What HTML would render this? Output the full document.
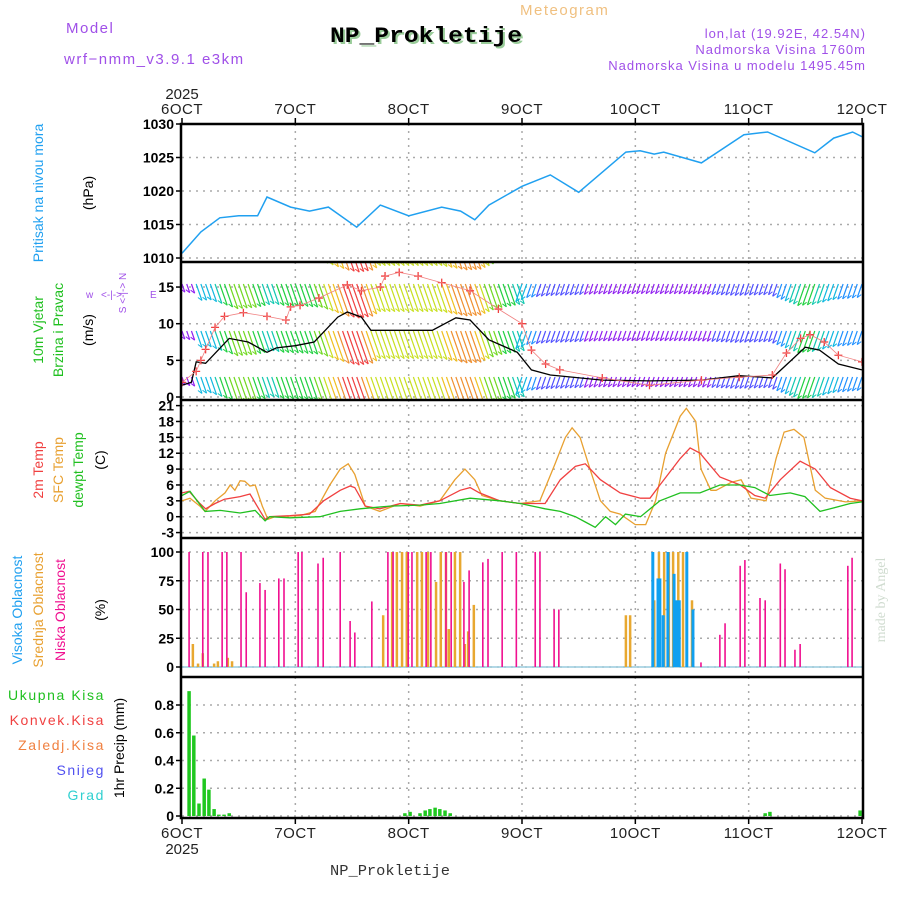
<!DOCTYPE html>
<html><head><meta charset="utf-8"><style>
html,body{margin:0;padding:0;background:#fff}
svg text{font-family:"Liberation Sans",sans-serif}
</style></head><body>
<svg id="chart" width="900" height="900" viewBox="0 0 900 900" xmlns="http://www.w3.org/2000/svg">
<rect x="0" y="0" width="900" height="900" fill="#fff"/>
<text x="66" y="33" font-size="15" fill="#a050e8" letter-spacing="1.5">Model</text>
<text x="64" y="64" font-size="15" fill="#a050e8" letter-spacing="1.5">wrf−nmm_v3.9.1 e3km</text>
<text x="520" y="15" font-size="15" fill="#f0c080" letter-spacing="1.5">Meteogram</text>
<text x="332" y="44" font-size="22" font-weight="bold" fill="#9c9" textLength="192" lengthAdjust="spacingAndGlyphs" style="font-family:'Liberation Mono',monospace">NP_Prokletije</text>
<text x="330" y="42" font-size="22" font-weight="bold" fill="#000" textLength="192" lengthAdjust="spacingAndGlyphs" style="font-family:'Liberation Mono',monospace">NP_Prokletije</text>
<text x="866" y="38" font-size="13" fill="#a050e8" text-anchor="end" letter-spacing="1">lon,lat (19.92E, 42.54N)</text>
<text x="866" y="54" font-size="13" fill="#a050e8" text-anchor="end" letter-spacing="1">Nadmorska Visina 1760m</text>
<text x="866" y="70" font-size="13" fill="#a050e8" text-anchor="end" letter-spacing="1">Nadmorska Visina u modelu 1495.45m</text>

<g id="grid"></g>
<g id="marks"></g>
<g id="axes"></g>

<text transform="translate(43,193) rotate(-90)" font-size="14" fill="#20a0f0" text-anchor="middle">Pritisak na nivou mora</text>
<text transform="translate(93,193) rotate(-90)" font-size="14" fill="#000" text-anchor="middle">(hPa)</text>
<text transform="translate(43,330) rotate(-90)" font-size="14" fill="#20c020" text-anchor="middle">10m Vjetar</text>
<text transform="translate(63,330) rotate(-90)" font-size="14" fill="#20c020" text-anchor="middle">Brzina i Pravac</text>
<text transform="translate(93,330) rotate(-90)" font-size="14" fill="#000" text-anchor="middle">(m/s)</text>
<text transform="translate(126,293) rotate(-90)" font-size="10" fill="#a050e8" text-anchor="middle">S &lt;-|-&gt; N</text>
<text x="86" y="298" font-size="10" fill="#a050e8">w</text>
<text x="150" y="298" font-size="10" fill="#a050e8">E</text>
<text x="101" y="298" font-size="10" fill="#a050e8">&lt;-|-&gt;</text>
<text transform="translate(43,470) rotate(-90)" font-size="14" fill="#f04040" text-anchor="middle">2m Temp</text>
<text transform="translate(63,470) rotate(-90)" font-size="14" fill="#e8a030" text-anchor="middle">SFC Temp</text>
<text transform="translate(83,470) rotate(-90)" font-size="14" fill="#20c020" text-anchor="middle">dewpt Temp</text>
<text transform="translate(105,460) rotate(-90)" font-size="14" fill="#000" text-anchor="middle">(C)</text>
<text transform="translate(22,610) rotate(-90)" font-size="14" fill="#20a0f0" text-anchor="middle">Visoka Oblacnost</text>
<text transform="translate(43,610) rotate(-90)" font-size="14" fill="#e8a030" text-anchor="middle">Srednja Oblacnost</text>
<text transform="translate(65,610) rotate(-90)" font-size="14" fill="#f01090" text-anchor="middle">Niska Oblacnost</text>
<text transform="translate(105,610) rotate(-90)" font-size="14" fill="#000" text-anchor="middle">(%)</text>
<text x="105" y="700" font-size="14" fill="#20c020" text-anchor="end" letter-spacing="1.6">Ukupna Kisa</text>
<text x="105" y="725" font-size="14" fill="#f04040" text-anchor="end" letter-spacing="1.6">Konvek.Kisa</text>
<text x="105" y="750" font-size="14" fill="#f08040" text-anchor="end" letter-spacing="1.6">Zaledj.Kisa</text>
<text x="105" y="775" font-size="14" fill="#5050f0" text-anchor="end" letter-spacing="1.6">Snijeg</text>
<text x="105" y="800" font-size="14" fill="#30d0d0" text-anchor="end" letter-spacing="1.6">Grad</text>
<text transform="translate(124,748) rotate(-90)" font-size="14" fill="#000" text-anchor="middle">1hr Precip (mm)</text>
<text transform="translate(885,600) rotate(-90)" font-size="14" fill="#d0dcd0" text-anchor="middle" style="font-family:'Liberation Serif',serif">made by Angel</text>
<text x="330" y="875" font-size="15" fill="#333" textLength="120" lengthAdjust="spacingAndGlyphs" style="font-family:'Liberation Mono',monospace">NP_Prokletije</text>
</svg>
<script>
const dayLabels = ["6OCT","7OCT","8OCT","9OCT","10OCT","11OCT","12OCT"];
const pressHours = [0,4,8,12,16,18,23,27,31,37,42,48,55,59,62,65,72,78,84,94,97,100,102,110,119,124,134,138,142,144];
const pressVals = [1010.7,1013.9,1016,1016.3,1016.3,1019.1,1017.6,1017,1017.6,1014.6,1017.9,1016.3,1017.6,1017,1015.7,1017.9,1020.7,1022.4,1019.8,1025.8,1026,1025.5,1025.8,1024.2,1028.4,1028.8,1025.7,1027.9,1028.8,1028.1];
const windHours = [0,2,3,5,10,14,18,20,24,28,33,35,38,40,47,53,58,61,65,71,74,78,89,99,110,118,125,129,132,135,139,144];
const windSpeed = [1.6,2,4.8,4.6,8,7.5,6.1,6.7,7,7.5,10.9,11.6,10.9,9.1,9.1,9.1,10.8,10.5,7.8,6.1,3.7,3,2.3,2.2,2.3,2.9,2.6,5,6.8,6.4,4.5,3.7];
const gustHours = [0,3,4,5,7,9,13,18,22,23,25,29,35,38,42,43,46,50,55,61,67,72,74,77,80,89,99,110,118,125,128,131,133,136,139,144];
const gustVals = [2,3.5,5,6.5,9.5,11,11.5,11,10.5,12.3,12.5,13.5,15.3,14.5,15,16.5,17,16.5,15.6,14.5,12,10,6.4,4.5,3.7,2.6,1.6,2.3,2.7,3,6,8,8.5,7.5,5.7,4.8];
const t2Hours = [0,1.5,3.8,5,7,9,12.3,14.4,15.9,17.6,18.6,22.9,27,30,33.5,35.6,36.6,38.8,41.9,46.2,50.4,54.6,58.9,61,63,67.3,71.6,76.9,80.1,83.3,85.4,88.6,92.8,97.1,99.1,101.2,105.5,107.6,109.7,113.9,118.2,121.3,123.5,126.7,130.9,134.1,137.3,141.5,144];
const t2Vals = [4.5,4.8,2.5,1.5,2.5,3.3,3.8,4.3,2,-0.5,0,0.2,0.5,3,5,5.8,5.5,2,1.5,2.5,2.2,3,5,5.5,4.5,3,2.5,2.5,7,9.5,10,7,4.5,3.5,3.5,6,11,13,12,7.5,6,4,3.5,7,10.5,9,5.5,3.5,3];
const sfcHours = [0,1.7,3.8,4.9,7,9.1,10.2,11.2,12.3,13.3,14.4,15.5,17,18.2,19.7,25,28.2,31.3,33.5,35.2,36.6,38.8,41.9,46.2,50.4,54.6,57.8,59.9,62,63.5,67.3,71.6,75.8,79,81.2,82.6,84.3,86.4,88.6,90.7,92.8,96,98.2,100.3,102.4,105.5,106.8,108.8,109.9,112,113.1,116.3,118.4,120.5,123.7,125.8,127.5,129.6,131.7,134.1,136.2,140.5,144];
const sfcVals = [3,3.5,2,1,3,4.5,6,5,6.8,6.7,5.8,6,2,-0.5,0,0.2,1,6,9,10,8,2,1,2.5,2,3,7,9,7,4,3,2.5,3,10,15,16.8,15,9,3,1,0.5,-1.5,-1.5,3,12,19,20.5,18,9,5,5,6.5,7,3.5,3,11,16,16.5,15,5,3.5,2.8,3];
const dewHours = [0,1.7,4.9,8.1,12.3,15.5,17.6,18.6,22.9,29.2,33.5,37.7,44,50.4,54.6,61,67.3,71.6,76.9,80.1,83.3,85.4,87.5,89.7,91.8,93.9,97.1,101.2,105.5,109.7,113.9,118.2,121.3,124.5,128.8,131.9,135.1,137.3,141.5,144];
const dewVals = [4,4.8,1,1.2,0.7,1.2,-0.8,0,-0.2,0,1,1.5,2,2.2,2.5,3.5,3,2.5,1.5,1,0,-1,-2,0,-1.5,0.5,0,3,4.5,4.5,6,6,5.5,4,4.5,3.8,1,1.5,2.5,2.8];
const lowCloudHours = [1.5,4.4,5.5,8.5,9.5,12.5,13.6,16.5,17.6,20.5,21.6,24.6,25.4,28.8,29.9,33.5,35.6,36.6,40.2,43.6,44.7,47.9,48.7,51.7,52.7,55.9,57,59.7,60.8,63.7,64.8,67.8,70.8,74.8,75.8,78.8,79.8,109.9,113.9,115,118.2,119.2,122.4,123.5,126.7,127.7,129.8,130.9,141,141.9];
const lowCloudVals = [100,100,100,100,100,100,65,73,67,77,77,100,100,90,95,100,40,30,57,100,100,100,100,100,100,100,100,74,84,91,94,100,100,100,100,50,50,4,28,38,88,93,60,58,90,85,15,20,88,95];
const midCloudHours = [2.3,3.4,4.4,6.8,7.6,9.7,10.6,42.6,44.5,45.5,46.6,47.6,49.8,50.8,52.1,53.8,54.8,55.9,56.5,57.8,58.9,59.9,60.6,61.8,94,94.9,100,101,102.1,103.1,104,105.1,106.1,108];
const midCloudVals = [20,3,12,3,5,8,5,45,100,100,100,100,100,100,100,74,100,100,33,100,100,20,31,54,45,45,58,100,100,100,100,100,100,58];
const highCloudHours = [99.7,100.8,101.2,101.9,102.9,104.2,104.8,105.3,106.9,108.2];
const highCloudVals = [100,77,77,45,100,81,58,58,100,50];
const precipHours = [1.5,2.5,3.6,4.7,5.7,6.8,7.8,8.9,10,47.2,48.3,50.4,51.5,52.5,53.6,54.6,55.7,56.8,123.5,124.5,143.6];
const precipVals = [0.9,0.58,0.09,0.27,0.19,0.05,0.01,0.01,0.02,0.02,0.03,0.02,0.04,0.05,0.06,0.05,0.04,0.02,0.02,0.03,0.04];
const pressTicks = [1010,1015,1020,1025,1030];
const windTicks = [0,5,10,15];
const tempTicks = [-3,0,3,6,9,12,15,18,21];
const cloudTicks = [0,25,50,75,100];
const precipTicks = [0,0.2,0.4,0.6,0.8];

const X0=182, X1=862, HMAX=144;
const xS = h => X0 + h*(X1-X0)/HMAX;
const yP = p => 258 - (p-1010)*6.7;
const yW = v => 397 - v*7.33;
const yT = t => 516.7 - t*5.29;
const yC = c => 667 - c*1.15;
const yR = r => 816 - r*138.75;

const NS="http://www.w3.org/2000/svg";
const grid=document.getElementById('grid'), marks=document.getElementById('marks'), axes=document.getElementById('axes');
function mk(tag, attrs, parent, text){
  const e=document.createElementNS(NS,tag);
  for(const k in attrs) e.setAttribute(k,attrs[k]);
  if(text!==undefined) e.textContent=text;
  parent.appendChild(e); return e;
}
const panels=[{top:124,bot:262,ticks:pressTicks,f:yP,fmt:v=>v,nm:'pressure'},
  {top:262,bot:400,ticks:windTicks,f:yW,fmt:v=>v,nm:'wind'},
  {top:400,bot:538,ticks:tempTicks,f:yT,fmt:v=>v,nm:'temp'},
  {top:538,bot:677,ticks:cloudTicks,f:yC,fmt:v=>v,nm:'cloud'},
  {top:677,bot:818,ticks:precipTicks,f:yR,fmt:v=>v===0?'0':v.toFixed(1),nm:'precip'}];

const defs=mk('defs',{},document.getElementById('chart'));
panels.forEach((p,i)=>{const c=mk('clipPath',{id:'clip'+i},defs); mk('rect',{x:X0,y:p.top,width:X1-X0,height:p.bot-p.top},c);});

panels.forEach((p,i)=>{
  for(let d=1; d<dayLabels.length-1; d++){
    const gl=mk('line',{x1:xS(d*24),x2:xS(d*24),y1:p.top,y2:p.bot,stroke:'#aaa','stroke-width':1.5,'stroke-dasharray':'2,5'},grid);
    
    
  }
  p.ticks.forEach(t=>{
    const y=p.f(t);
    const hl=mk('line',{x1:X0,x2:X1,y1:y,y2:y,stroke:'#aaa','stroke-width':1.5,'stroke-dasharray':'2,5'},grid);
    
    
    mk('line',{x1:X0-6,x2:X0,y1:y,y2:y,stroke:'#000','stroke-width':1.5},axes);
    const tl=mk('text',{x:X0-8,y:y+5,'font-size':14,'font-weight':'bold','text-anchor':'end',fill:'#000'},axes,p.fmt(t));
    
    
  });
});

function poly(hs, vs, fy, color, w, name, clip){
  const pts=hs.map((h,i)=>xS(h).toFixed(1)+','+fy(vs[i]).toFixed(1)).join(' ');
  const e=mk('polyline',{points:pts,fill:'none',stroke:color,'stroke-width':w,'clip-path':'url(#clip'+clip+')'},marks);
  
  
}
function interp(hs, vs, h){
  if(h<=hs[0]) return vs[0];
  for(let i=1;i<hs.length;i++) if(h<=hs[i]){const t=(h-hs[i-1])/(hs[i]-hs[i-1]);return vs[i-1]+t*(vs[i]-vs[i-1]);}
  return vs[vs.length-1];
}
function barColor(s){
  if(s<2.5) return '#9020f0'; if(s<3.5) return '#5050ff'; if(s<4.5) return '#2090ff';
  if(s<5.5) return '#10b8e0'; if(s<6.5) return '#10c8b0'; if(s<7.5) return '#20d040';
  if(s<8.5) return '#70d820'; if(s<9.5) return '#c8e020'; if(s<10.3) return '#f0c020';
  if(s<11) return '#f09030'; return '#f04040';
}

poly(pressHours, pressVals, yP, '#20a0f0', 1.5, 'pressure-line', 0);

const rows=[377,331,284,238];
for(let h=0; h<=HMAX; h++){
  const s=interp(windHours, windSpeed, h);
  const len=4+2.6*s;
  const dx = h<72 ? 0.35*len : -0.35*len;
  rows.forEach(ry=>{
    const x=xS(h);
    const b=mk('line',{x1:x,y1:ry,x2:x+dx,y2:ry+len,stroke:barColor(s),'stroke-width':1.2,'clip-path':'url(#clip1)'},marks);
    
    
    const f=mk('line',{x1:x+dx,y1:ry+len,x2:x+dx+(dx>0?-4:4),y2:ry+len-3,stroke:barColor(s),'stroke-width':1,'clip-path':'url(#clip1)'},marks);
    
    
  });
}
poly(windHours, windSpeed, yW, '#000', 1.3, 'wind-speed-line', 1);
gustHours.forEach((h,i)=>{
  const x=xS(h), y=yW(gustVals[i]);
  const g=mk('path',{d:`M${x-4},${y}H${x+4}M${x},${y-4}V${y+4}`,stroke:'#f04040','stroke-width':1.3,'clip-path':'url(#clip1)'},marks);
  
  
});
poly(gustHours, gustVals, yW, '#f08080', 0.8, 'gust-line', 1);

poly(sfcHours, sfcVals, yT, '#e8a030', 1.3, 'sfc-temp-line', 2);
poly(t2Hours, t2Vals, yT, '#f04040', 1.3, 't2m-line', 2);
poly(dewHours, dewVals, yT, '#20c020', 1.3, 'dewpoint-line', 2);

mk('line',{x1:X0,x2:X1,y1:yC(0),y2:yC(0),stroke:'#9cd',"stroke-width":1.5},marks);
function bars(hs, vs, fy, color, w, name){
  hs.forEach((h,i)=>{
    const y=fy(vs[i]), y0=fy(0);
    const r=mk('rect',{x:xS(h)-w/2,y:y,width:w,height:Math.max(0,y0-y),fill:color},marks);
    
    
  });
}
bars(midCloudHours, midCloudVals, yC, '#e8a830', 2.5, 'mid-cloud-bar');
bars(highCloudHours, highCloudVals, yC, '#10a0f0', 3, 'high-cloud-bar');
bars(lowCloudHours, lowCloudVals, yC, '#f01090', 1.6, 'low-cloud-bar');

bars(precipHours, precipVals, yR, '#20c820', 3.5, 'precip-bar');

mk('rect',{x:X0-1,y:124,width:X1-X0+2,height:694,fill:'none',stroke:'#000','stroke-width':2.5},axes);
[262,400,538,677].forEach(y=>{
  const l=mk('line',{x1:X0-1,x2:X1+1,y1:y,y2:y,stroke:'#000','stroke-width':2.5},axes);
  
  
});

dayLabels.forEach((d,i)=>{
  const x=xS(i*24);
  mk('line',{x1:x,x2:x,y1:118,y2:124,stroke:'#000','stroke-width':1.5},axes);
  mk('line',{x1:x,x2:x,y1:818,y2:824,stroke:'#000','stroke-width':1.5},axes);
  const t1=mk('text',{x:x,y:114,'font-size':15,'text-anchor':'middle',fill:'#222','letter-spacing':'0.5'},axes,d);
  
  
  const t2=mk('text',{x:x,y:838,'font-size':15,'text-anchor':'middle',fill:'#222','letter-spacing':'0.5'},axes,d);
  
  
});
const yr1=mk('text',{x:xS(0),y:99,'font-size':15,'text-anchor':'middle',fill:'#222'},axes,'2025');


const yr2=mk('text',{x:xS(0),y:854,'font-size':15,'text-anchor':'middle',fill:'#222'},axes,'2025');


</script>
</body></html>
